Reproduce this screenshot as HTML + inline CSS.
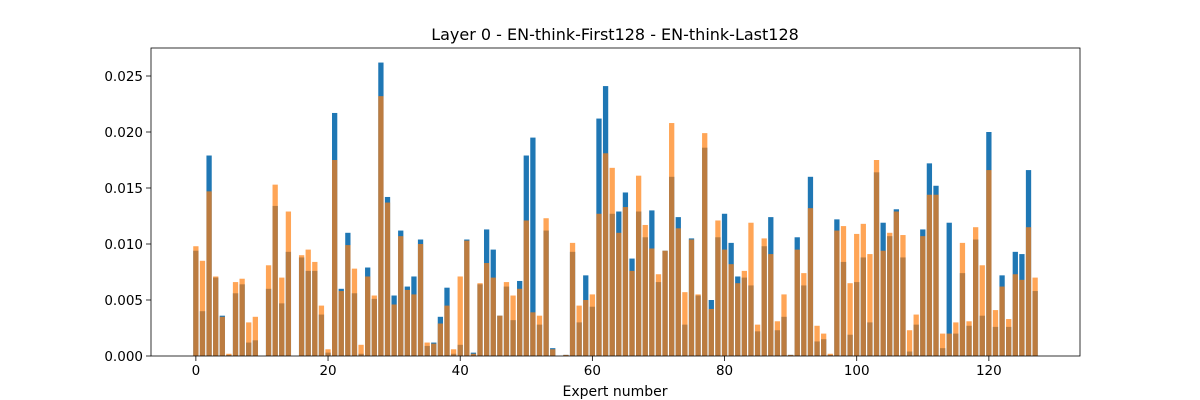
<!DOCTYPE html>
<html><head><meta charset="utf-8"><style>
html,body{margin:0;padding:0;background:#fff;}
svg{display:block;font-family:"DejaVu Sans","Liberation Sans",sans-serif;}
</style></head><body>
<svg id="chart" width="1200" height="400" viewBox="0 0 1200 400" xmlns="http://www.w3.org/2000/svg">
<rect x="0" y="0" width="1200" height="400" fill="#fff"/>
<text x="615" y="40" font-size="16" text-anchor="middle" fill="#000">Layer 0 - EN-think-First128 - EN-think-Last128</text>
<g id="bars"></g>
<g id="axes"></g>
<text x="615" y="396" font-size="14" text-anchor="middle" fill="#000">Expert number</text>
</svg>
<script>
const first128 = [0.0094,0.0040,0.0179,0.0070,0.0036,0.0001,0.0056,0.0064,0.0012,0.0014,0,0.0060,0.0134,0.0047,0.0093,0,0.0088,0.0076,0.0076,0.0037,0.0003,
0.0217,0.0060,0.0110,0.0056,0.0002,0.0079,0.0051,0.0262,0.0142,0.0054,0.0112,0.0062,0.0071,0.0104,0.0009,0.0012,0.0035,0.0061,0.0002,0.0010,0.0104,
0.0003,0.0064,0.0113,0.0095,0.0036,0.0062,0.0032,0.0067,0.0179,0.0195,0.0028,0.0112,0.0007,0,0.0001,0.0093,0.0030,0.0072,0.0044,0.0212,0.0241,
0.0127,0.0129,0.0146,0.0087,0.0129,0.0106,0.0130,0.0066,0.0094,0.0160,0.0124,0.0028,0.0105,0.0054,0.0186,0.0050,0.0106,0.0127,0.0101,0.0071,0.0070,0.0063,
0.0022,0.0098,0.0124,0.0023,0.0035,0.0001,0.0106,0.0063,0.0160,0.0013,0.0015,0.0001,0.0122,0.0084,0.0019,0.0066,0.0088,0.0030,0.0164,0.0119,0.0107,
0.0131,0.0088,0.0004,0.0028,0.0113,0.0172,0.0152,0.0007,0.0119,0.0020,0.0074,0.0027,0.0104,0.0036,0.0200,0.0026,0.0072,0.0026,0.0093,0.0091,0.0166,0.0058];
const last128 = [0.0098,0.0085,0.0147,0.0071,0.0035,0.0002,0.0066,0.0069,0.0030,0.0035,0,0.0081,0.0153,0.0070,0.0129,0,0.0090,0.0095,0.0084,0.0045,0.0006,
0.0175,0.0058,0.0099,0.0078,0.0010,0.0071,0.0054,0.0232,0.0137,0.0046,0.0107,0.0059,0.0055,0.0100,0.0012,0.0011,0.0029,0.0045,0.0006,0.0071,0.0103,
0.0002,0.0065,0.0083,0.0070,0.0036,0.0066,0.0054,0.0060,0.0121,0.0039,0.0036,0.0123,0.0006,0,0.0001,0.0101,0.0045,0.0050,0.0055,0.0127,0.0181,
0.0168,0.0110,0.0133,0.0076,0.0161,0.0117,0.0096,0.0073,0.0094,0.0208,0.0114,0.0057,0.0104,0.0055,0.0199,0.0042,0.0121,0.0095,0.0082,0.0065,0.0076,0.0119,
0.0028,0.0105,0.0091,0.0031,0.0055,0.0001,0.0095,0.0074,0.0132,0.0027,0.0020,0.0002,0.0112,0.0116,0.0065,0.0109,0.0118,0.0091,0.0175,0.0094,0.0110,
0.0129,0.0108,0.0023,0.0037,0.0107,0.0144,0.0144,0.0020,0.0020,0.0030,0.0101,0.0031,0.0115,0.0081,0.0166,0.0041,0.0062,0.0033,0.0073,0.0068,0.0115,0.0070];
const xTicks = [0,20,40,60,80,100,120];
const yTicks = [0,0.005,0.010,0.015,0.020,0.025];
const yTickLabels = ["0.000","0.005","0.010","0.015","0.020","0.025"];

const NS = "http://www.w3.org/2000/svg";
const L = 151, R = 1080, T = 48, B = 356;
const xMin = -0.4 - 0.05*127.8, xMax = 127.4 + 0.05*127.8;
const yMax = 0.0275;
function xs(v){ return L + (v - xMin) / (xMax - xMin) * (R - L); }
function ys(v){ return B - v / yMax * (B - T); }
function mk(tag, attrs, parent){ const e = document.createElementNS(NS, tag); for (const k in attrs) e.setAttribute(k, attrs[k]); parent.appendChild(e); return e; }

const bars = document.getElementById('bars');
const w = xs(0.8) - xs(0);
function drawSeries(arr, color, op, name){
  arr.forEach((v, i) => {
    const r = mk('rect', {x: xs(i - 0.4), y: ys(v), width: w, height: ys(0) - ys(v), fill: color, 'fill-opacity': op}, bars);
    
    
  });
}
drawSeries(first128, '#1f77b4', 1, 'first128');
drawSeries(last128, '#ff7f0e', 0.7, 'last128');

const axes = document.getElementById('axes');
const frame = mk('rect', {x: L, y: T, width: R - L, height: B - T, fill: 'none', stroke: '#000', 'stroke-width': 0.8}, axes);


xTicks.forEach(t => {
  const x = xs(t);
  const tk = mk('line', {x1: x, x2: x, y1: B, y2: B + 5, stroke: '#000', 'stroke-width': 0.8}, axes);
  
  
  const lb = mk('text', {x: x, y: B + 19, 'font-size': 13.5, 'text-anchor': 'middle', fill: '#000'}, axes);
  lb.textContent = String(t);
  
  
});
yTicks.forEach((t, i) => {
  const y = ys(t);
  const tk = mk('line', {x1: L - 5, x2: L, y1: y, y2: y, stroke: '#000', 'stroke-width': 0.8}, axes);
  
  
  const lb = mk('text', {x: L - 8, y: y + 5, 'font-size': 13.5, 'text-anchor': 'end', fill: '#000'}, axes);
  lb.textContent = yTickLabels[i];
  
  
});
</script>
</body></html>
